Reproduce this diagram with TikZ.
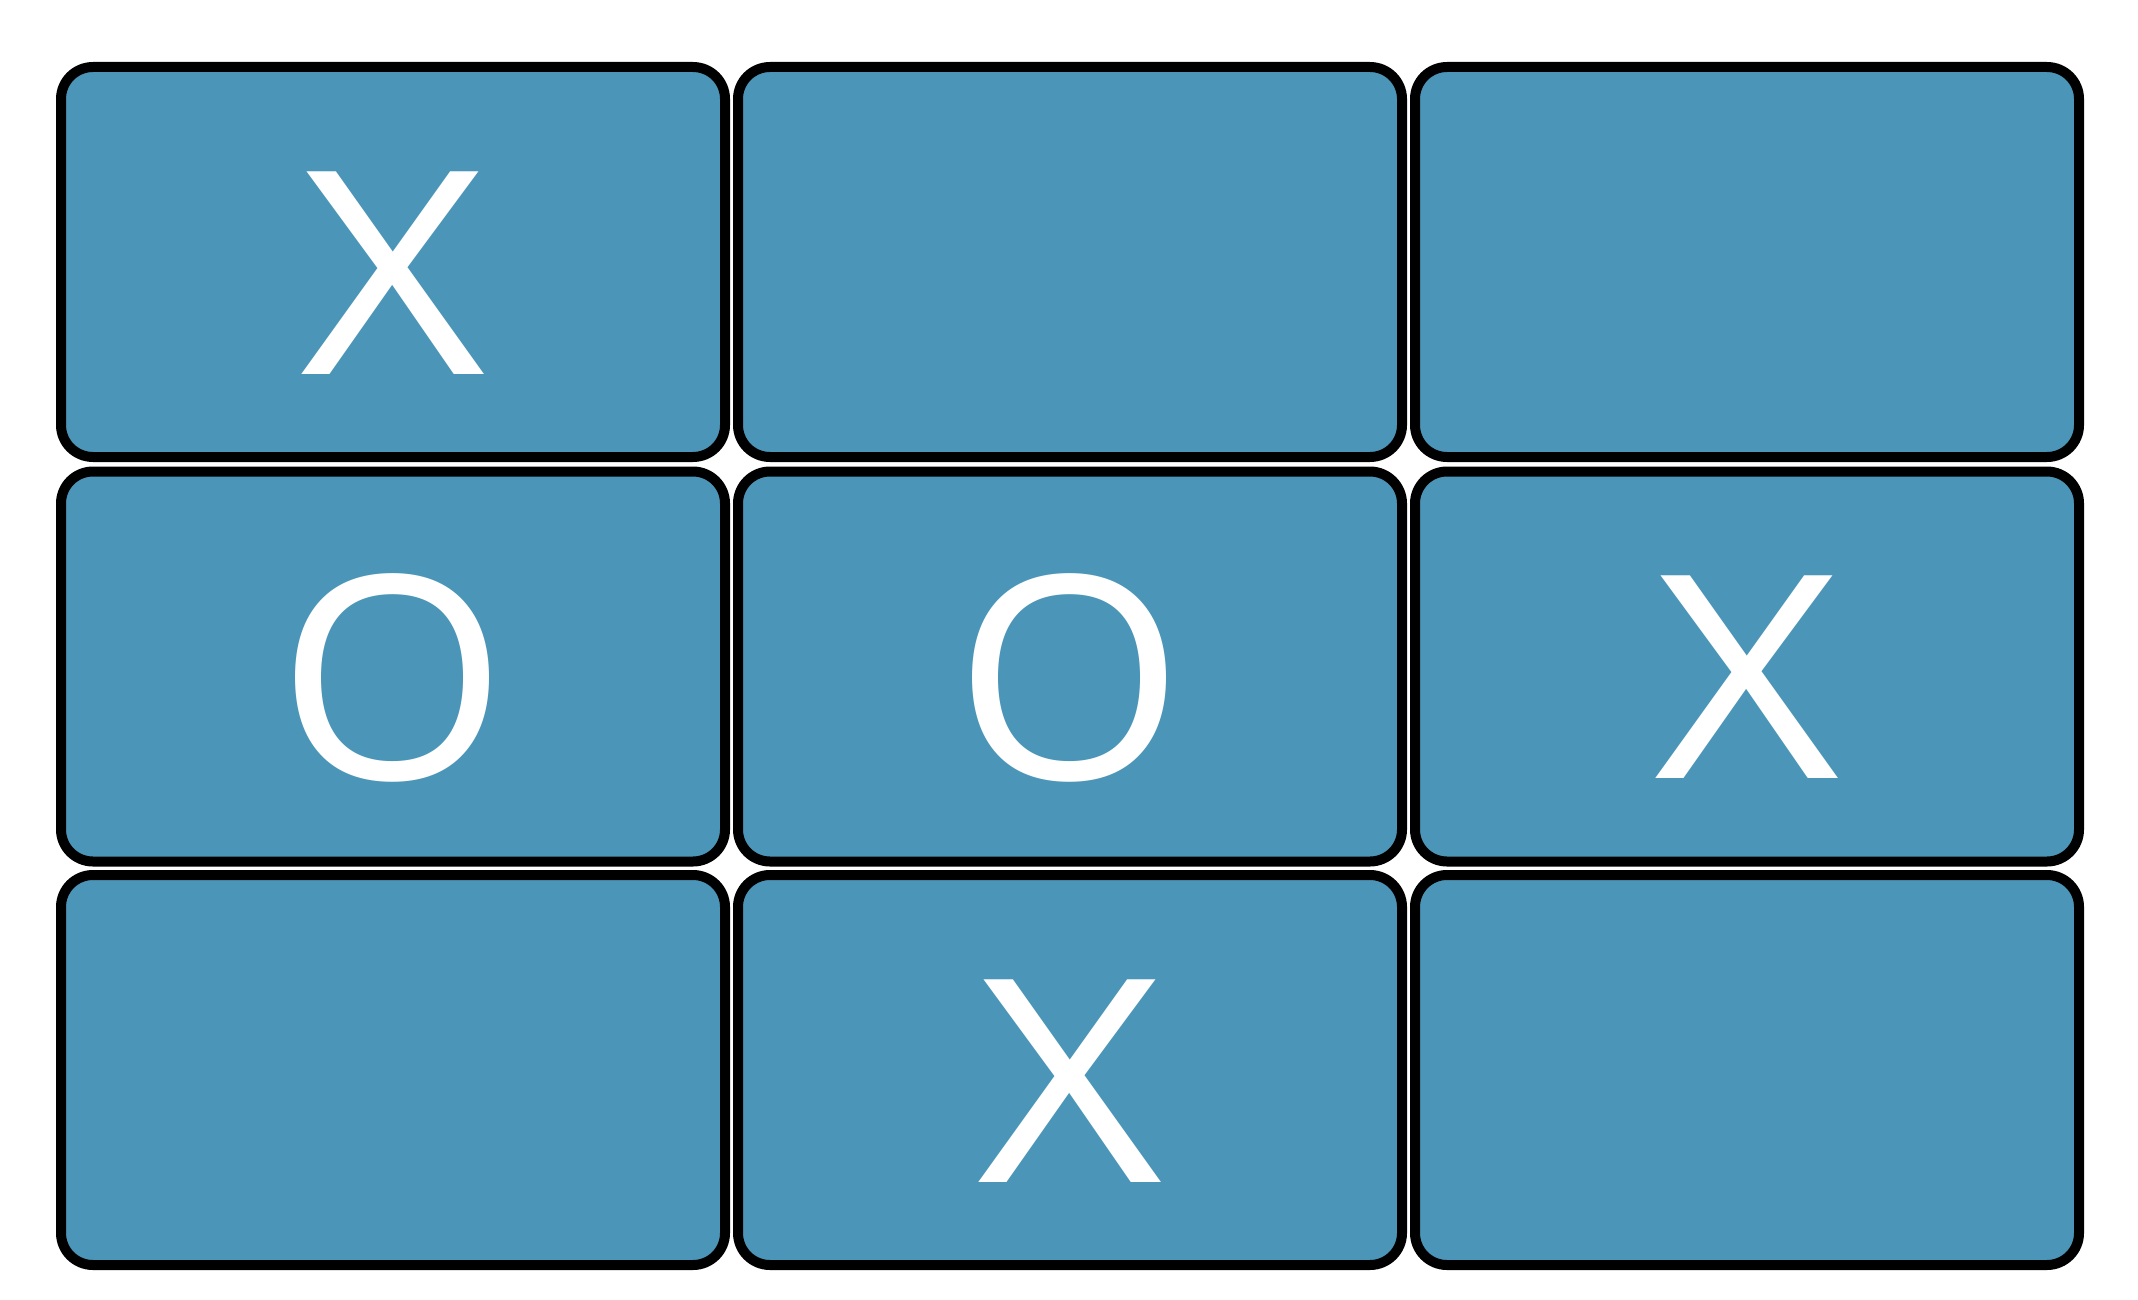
\documentclass[tikz,border=0pt]{standalone}
\usepackage{graphicx}
\usepackage{fontspec}
\setmainfont{Open Sans}
\definecolor{cellblue}{RGB}{75,150,184}
\newcommand{\glyphX}{\scalebox{2.26}[2]{X}}
\newcommand{\glyphO}{\scalebox{2.08}[2]{O}}
\begin{document}
\begin{tikzpicture}[x=1pt,y=-1pt,
  cell/.style={draw=black,line width=10pt,fill=cellblue,rounded corners=32pt,
    minimum width=664pt,minimum height=390pt,inner sep=0pt,outer sep=0pt},
  glyph/.style={text=white,inner sep=0pt,font=\fontsize{142}{150}\selectfont,yshift=-11pt}]
\useasboundingbox (0,0) rectangle (2138,1300);
\node[cell] (c11) at (393,262) {};
\node[cell] (c12) at (1070,262) {};
\node[cell] (c13) at (1747,262) {};
\node[cell] (c21) at (393,666.5) {};
\node[cell] (c22) at (1070,666.5) {};
\node[cell] (c23) at (1747,666.5) {};
\node[cell] (c31) at (393,1070) {};
\node[cell] (c32) at (1070,1070) {};
\node[cell] (c33) at (1747,1070) {};
\node[glyph] (t11) at (c11.center) {\glyphX};
\node[glyph] (t21) at (c21.center) {\glyphO};
\node[glyph] (t22) at (c22.center) {\glyphO};
\node[glyph] (t23) at (c23.center) {\glyphX};
\node[glyph] (t32) at (c32.center) {\glyphX};
\end{tikzpicture}
\end{document}
